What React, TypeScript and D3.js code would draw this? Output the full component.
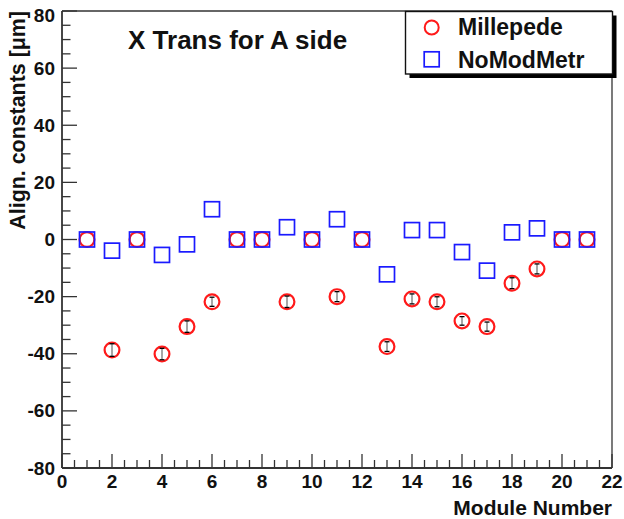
import React from "react";
import * as d3 from "d3";

const modules = [1, 2, 3, 4, 5, 6, 7, 8, 9, 10, 11, 12, 13, 14, 15, 16, 17, 18, 19, 20, 21];
const millepede = [0, -38.7, 0, -40.1, -30.5, -21.8, 0, 0, -21.8, 0, -20.0, 0, -37.5, -20.8, -21.8, -28.5, -30.5, -15.3, -10.3, 0, 0];
const millepedeErr = [0, 2.2, 0, 2.0, 2.0, 1.6, 0, 0, 2.0, 0, 1.75, 0, 1.7, 1.75, 1.75, 1.5, 1.6, 1.9, 1.75, 0, 0];
const noModMetr = [0, -3.9, 0, -5.4, -1.7, 10.6, 0, 0, 4.3, 0, 7.1, 0, -12.2, 3.3, 3.3, -4.4, -10.9, 2.5, 3.9, 0, 0];
const xTickLabels = [0, 2, 4, 6, 8, 10, 12, 14, 16, 18, 20, 22];
const yTickLabels = [-80, -60, -40, -20, 0, 20, 40, 60, 80];

const FONT = "'Liberation Sans', Arial, Helvetica, sans-serif";

export default function App() {
  const W = 624, H = 519;
  const left = 62, right = 612, top = 11, bottom = 468;
  const x = d3.scaleLinear().domain([0, 22]).range([left, right]);
  const y = d3.scaleLinear().domain([-80, 80]).range([bottom, top]);
  const xMinor = d3.range(0, 22.001, 0.5);
  const yMinor = d3.range(-80, 80.001, 5);
  const axisColor = "#333";

  return (
    <svg width={W} height={H} style={{ position: "absolute", left: 0, top: 0, background: "#fff" }} fontFamily={FONT}>
      <rect x={0} y={0} width={W} height={H} fill="#fff" />
      {/* frame */}
      <line x1={left} y1={top} x2={right} y2={top} stroke={axisColor} strokeWidth={1.3} />
      <line x1={right} y1={top} x2={right} y2={bottom} stroke={axisColor} strokeWidth={1.3} />
      <line x1={left} y1={top} x2={left} y2={bottom} stroke={axisColor} strokeWidth={1.8} />
      <line x1={left} y1={bottom} x2={right} y2={bottom} stroke={axisColor} strokeWidth={1.8} />
      {/* x ticks */}
      {xMinor.map((v) => {
        const major = Math.abs(v / 2 - Math.round(v / 2)) < 1e-6;
        return (
          <line key={"xt" + v} x1={x(v)} x2={x(v)} y1={bottom} y2={bottom - (major ? 14 : 8)} stroke={axisColor} strokeWidth={1.3} />
        );
      })}
      {xTickLabels.map((v) => (
        <text key={"xl" + v} x={x(v)} y={488} textAnchor="middle" fontSize={19} fontWeight="bold" fill="#111">{v}</text>
      ))}
      {/* y ticks */}
      {yMinor.map((v) => {
        const major = Math.abs(v / 20 - Math.round(v / 20)) < 1e-6;
        return (
          <line key={"yt" + v} x1={left} x2={left + (major ? 15 : 8.5)} y1={y(v)} y2={y(v)} stroke={axisColor} strokeWidth={1.3} />
        );
      })}
      {yTickLabels.map((v) => (
        <text key={"yl" + v} x={55} y={y(v) + (v === 80 ? 4 : 0)} textAnchor="end" dominantBaseline="central" fontSize={19} fontWeight="bold" fill="#111">{v}</text>
      ))}
      {/* axis titles */}
      <text x={612} y={515} textAnchor="end" fontSize={21} fontWeight="bold" fill="#111">Module Number</text>
      <text transform={`translate(25, ${top}) rotate(-90)`} textAnchor="end" fontSize={21.4} fontWeight="bold" fill="#111">Align. constants [μm]</text>
      {/* title */}
      <text x={128} y={49} fontSize={26} fontWeight="bold" fill="#111">X Trans for A side</text>
      {/* Millepede circles + errors */}
      {modules.map((m, i) => (
        <g key={"c" + m}>
          <circle cx={x(m)} cy={y(millepede[i])} r={7.4} fill="none" stroke="#ff1a1a" strokeWidth={2.2} />
          {millepedeErr[i] > 0 && (
            <g stroke="#000" strokeWidth={1.3}>
              <line x1={x(m)} x2={x(m)} y1={y(millepede[i] + millepedeErr[i])} y2={y(millepede[i] - millepedeErr[i])} strokeWidth={0.7} />
              <line x1={x(m) - 2.5} x2={x(m) + 2.5} y1={y(millepede[i] + millepedeErr[i])} y2={y(millepede[i] + millepedeErr[i])} />
              <line x1={x(m) - 2.5} x2={x(m) + 2.5} y1={y(millepede[i] - millepedeErr[i])} y2={y(millepede[i] - millepedeErr[i])} />
            </g>
          )}
        </g>
      ))}
      {/* NoModMetr squares */}
      {modules.map((m, i) => (
        <rect key={"s" + m} x={x(m) - 7.5} y={y(noModMetr[i]) - 7.5} width={15} height={15} fill="none" stroke="#1a1aff" strokeWidth={1.7} />
      ))}
      {/* legend */}
      <rect x={409.5} y={15.5} width={207} height={62.5} fill="#000" />
      <rect x={405.5} y={11.5} width={207} height={62.5} fill="#fff" stroke="#111" strokeWidth={1.4} />
      <circle cx={431.7} cy={27.5} r={7} fill="none" stroke="#ff1a1a" strokeWidth={2} />
      <text x={458} y={35} fontSize={23} fontWeight="bold" fill="#111">Millepede</text>
      <rect x={424.2} y={51.8} width={15} height={15} fill="none" stroke="#1a1aff" strokeWidth={1.7} />
      <text x={458} y={68} fontSize={23} fontWeight="bold" fill="#111">NoModMetr</text>
    </svg>
  );
}
